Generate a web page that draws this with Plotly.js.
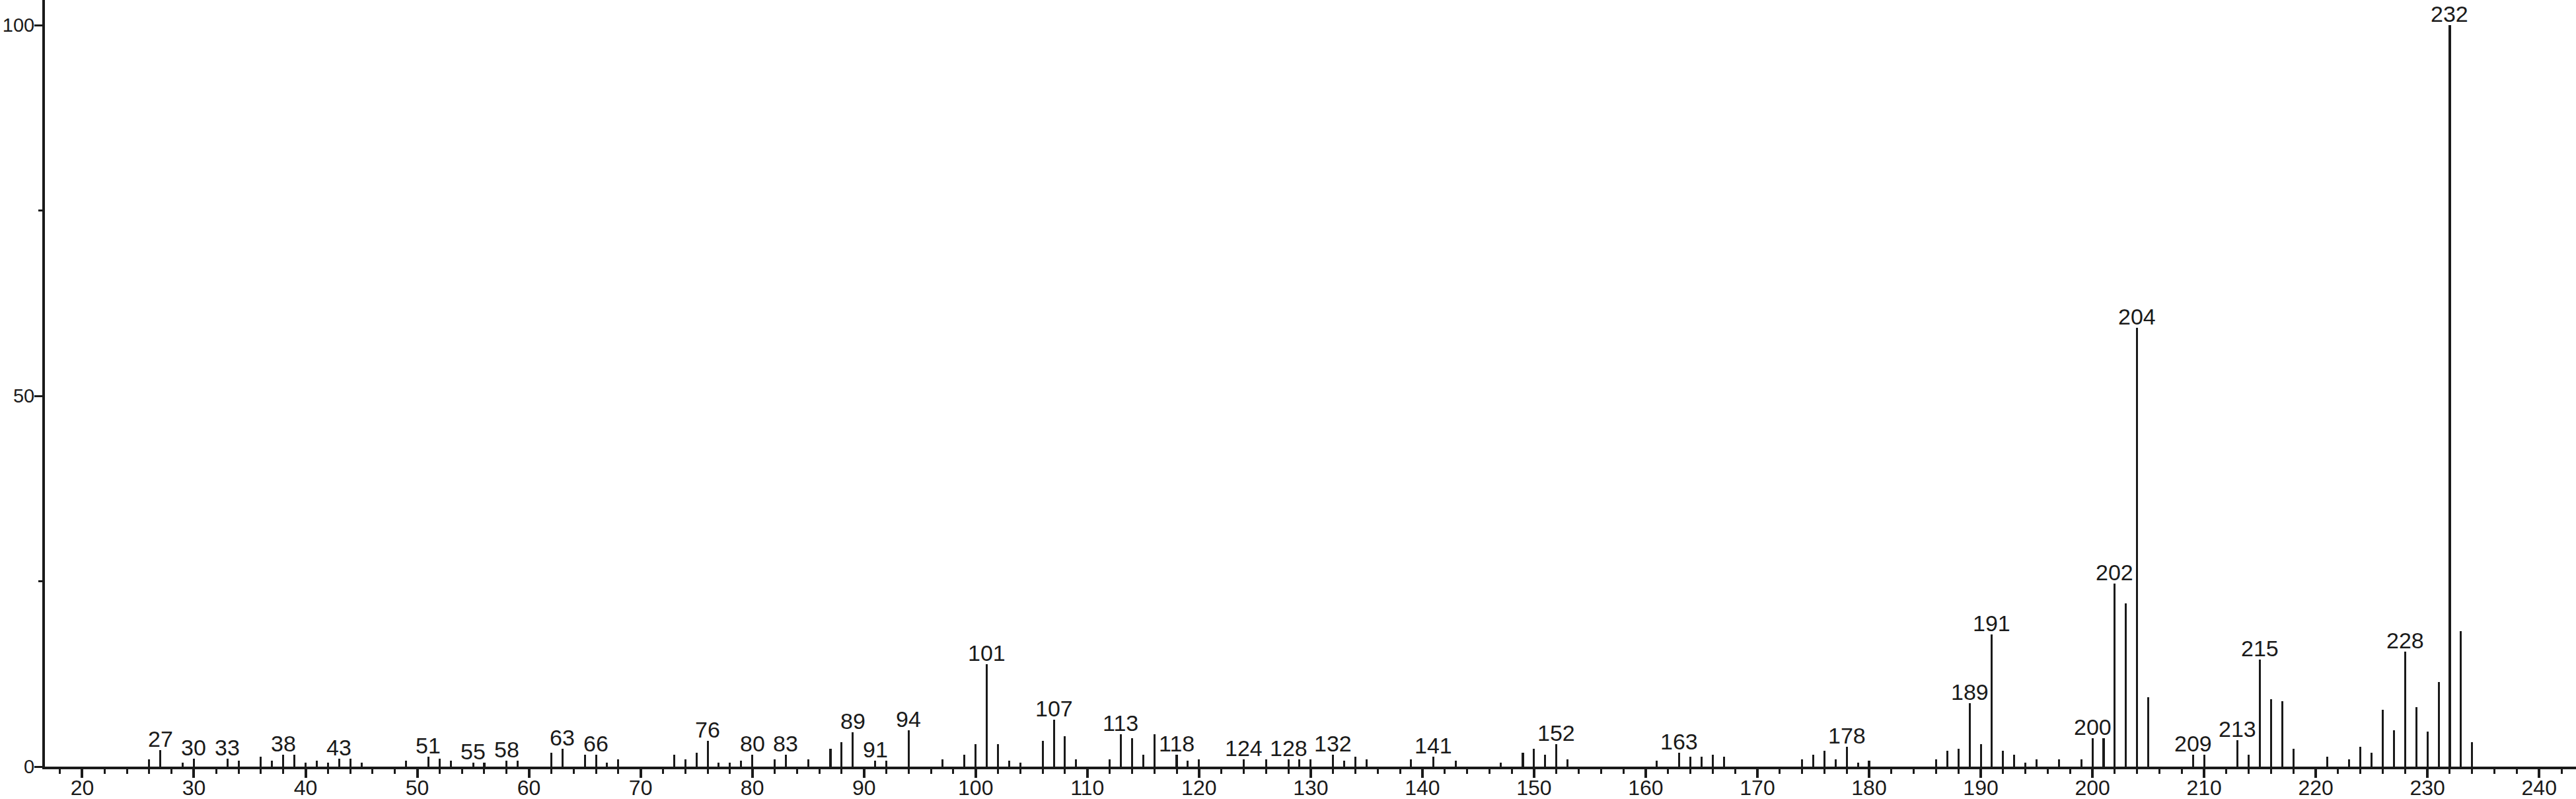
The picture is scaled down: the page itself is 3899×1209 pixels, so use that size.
<!DOCTYPE html>
<html>
<head>
<meta charset="utf-8">
<script src="https://cdn.plot.ly/plotly-3.0.1.min.js"></script>
<style>html,body{margin:0;padding:0;background:#fff;}#chart{width:3899px;height:1209px;}</style>
</head>
<body>
<div id="chart"></div>
<script>
// m/z values of the peaks
const mz = [26,27,29,30,33,34,36,37,38,39,40,41,42,43,44,45,49,51,52,53,55,56,58,59,
  62,63,65,66,67,68,73,74,75,76,77,78,79,80,82,83,85,87,88,89,91,92,94,97,99,100,
  101,102,103,104,106,107,108,109,112,113,114,115,116,118,119,120,124,126,128,129,130,
  132,133,134,135,139,141,143,147,149,150,151,152,153,161,163,164,165,166,167,
  174,175,176,177,178,179,180,186,187,188,189,190,191,192,193,194,195,197,199,
  200,201,202,203,204,205,209,210,213,214,215,216,217,218,221,223,224,225,226,227,
  228,229,230,231,232,233,234];
// relative intensities (%)
const intensity = [1.0,2.2,0.5,1.1,1.1,0.8,1.3,0.8,1.6,1.6,0.5,0.8,0.5,1.1,1.1,0.5,0.8,1.3,1.1,0.8,0.5,0.5,0.8,0.8,
  1.9,2.4,1.6,1.6,0.5,1.0,1.6,1.0,1.9,3.5,0.5,0.5,0.8,1.6,1.0,1.6,1.0,2.4,3.3,4.6,0.8,0.8,4.9,1.0,1.6,3.0,
  13.8,3.0,0.8,0.5,3.5,6.3,4.1,1.0,1.0,4.4,3.8,1.6,4.4,1.6,0.8,1.0,1.0,1.0,1.0,1.0,1.0,
  1.6,0.8,1.3,1.0,1.0,1.3,0.8,0.5,1.9,2.4,1.6,3.0,1.0,0.8,1.9,1.3,1.3,1.6,1.3,
  1.0,1.6,2.1,1.0,2.7,0.5,0.8,1.0,2.1,2.4,8.6,3.0,17.8,2.1,1.6,0.5,1.0,1.0,1.0,
  3.8,3.8,24.7,22.0,59.2,9.4,1.6,1.6,3.6,1.6,14.4,9.1,8.8,2.4,1.3,1.0,2.7,1.9,7.7,4.9,
  15.5,8.0,4.7,11.4,100,18.3,3.3];
// peaks that carry a m/z label
const labeledPeaks = [27,30,33,38,43,51,55,58,63,66,76,80,83,89,91,94,101,107,113,118,124,128,132,
  141,152,163,178,189,191,200,202,204,209,213,215,228,232];
// axis ticks
const xTickVals = [20,30,40,50,60,70,80,90,100,110,120,130,140,150,160,170,180,190,200,210,220,230,240];
const yTickVals = [0,50,100];

const FONT = '"Liberation Sans", Arial, Helvetica, sans-serif';
const INK = '#1a1a1a';

const bars = {
  type: 'bar',
  x: mz,
  y: intensity,
  width: 0.18,
  marker: {color: INK, line: {width: 0}},
  hoverinfo: 'x+y'
};

const annotations = labeledPeaks.map(m => {
  const i = mz.indexOf(m);
  return {
    x: m, y: intensity[i], xref: 'x', yref: 'y',
    text: String(m), showarrow: false,
    xanchor: 'center', yanchor: 'bottom', yshift: -4,
    font: {family: FONT, size: 34, color: INK}
  };
});

const layout = {
  width: 3899, height: 1209,
  margin: {l: 68, r: 0, t: 0, b: 49, pad: 0},
  paper_bgcolor: '#fff', plot_bgcolor: '#fff',
  showlegend: false,
  bargap: 0,
  xaxis: {
    range: [16.66, 243.3],
    tickmode: 'array', tickvals: xTickVals, ticktext: xTickVals.map(String),
    ticks: 'outside', ticklen: 13, tickwidth: 4, tickcolor: INK,
    ticklabelstandoff: -12,
    minor: {dtick: 2, tick0: 0, ticks: 'outside', ticklen: 7, tickwidth: 3, tickcolor: INK, showgrid: false},
    showline: true, linewidth: 4, linecolor: INK,
    showgrid: false, zeroline: false,
    tickfont: {family: FONT, size: 32, color: INK},
    fixedrange: true
  },
  yaxis: {
    range: [0, 103.4],
    tickmode: 'array', tickvals: yTickVals, ticktext: yTickVals.map(String),
    ticks: 'outside', ticklen: 12, tickwidth: 3, tickcolor: INK,
    ticklabelstandoff: -6,
    minor: {dtick: 25, tick0: 0, ticks: 'outside', ticklen: 6, tickwidth: 3, tickcolor: INK, showgrid: false},
    showline: true, linewidth: 4, linecolor: INK,
    showgrid: false, zeroline: false,
    tickfont: {family: FONT, size: 29, color: INK},
    fixedrange: true
  },
  annotations: annotations
};

Plotly.newPlot('chart', [bars], layout, {displayModeBar: false, staticPlot: true});
</script>
</body>
</html>
